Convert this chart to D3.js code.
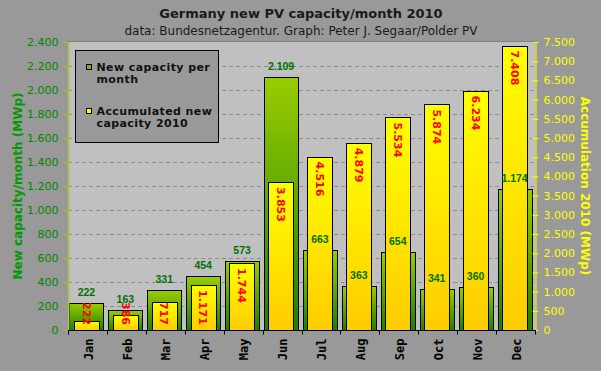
<!DOCTYPE html>
<html>
<head>
<meta charset="utf-8">
<script src="https://cdn.jsdelivr.net/npm/d3@7"></script>
<style>
  body { margin: 0; background: #999999; }
  svg { display: block; font-family: "DejaVu Sans", Verdana, sans-serif; }
</style>
</head>
<body>
<svg id="chart" width="601" height="371"></svg>
<script>
// monthly data, MWp
var months = ["Jan", "Feb", "Mar", "Apr", "May", "Jun", "Jul", "Aug", "Sep", "Oct", "Nov", "Dec"];
var newCapacity = [222, 163, 331, 454, 573, 2109, 663, 363, 654, 341, 360, 1174];
var accumulated = [222, 386, 717, 1171, 1744, 3853, 4516, 4879, 5534, 5874, 6234, 7408];
var leftTicks = [0, 200, 400, 600, 800, 1000, 1200, 1400, 1600, 1800, 2000, 2200, 2400];
var rightTicks = [0, 500, 1000, 1500, 2000, 2500, 3000, 3500, 4000, 4500, 5000, 5500, 6000, 6500, 7000, 7500];

var svg = d3.select("#chart");
var W = 601, H = 371;
var pLeft = 68, pRight = 535, pTop = 42, pBottom = 330;

// german style thousands: 2.400
var fmt = function(v) { return d3.format(",")(v).replace(/,/g, "."); };

var x = d3.scaleBand().domain(months).range([pLeft, pRight]);
var yL = d3.scaleLinear().domain([0, 2400]).range([pBottom, pTop]);
var yR = d3.scaleLinear().domain([0, 7500]).range([pBottom, pTop]);

var defs = svg.append("defs");
var gG = defs.append("linearGradient").attr("id", "gradGreen")
  .attr("x1", 0).attr("y1", 0).attr("x2", 0).attr("y2", 1);
gG.append("stop").attr("offset", "0%").attr("stop-color", "#99cc00");
gG.append("stop").attr("offset", "100%").attr("stop-color", "#1f7f00");
var gY = defs.append("linearGradient").attr("id", "gradYellow")
  .attr("x1", 0).attr("y1", 0).attr("x2", 0).attr("y2", 1);
gY.append("stop").attr("offset", "0%").attr("stop-color", "#ffff00");
gY.append("stop").attr("offset", "100%").attr("stop-color", "#ffcc00");

// background
svg.append("rect").attr("width", W).attr("height", H).attr("fill", "#999999");
svg.append("rect").attr("x", pLeft).attr("y", pTop).attr("width", pRight - pLeft).attr("height", pBottom - pTop)
  .attr("fill", "#c0c0c0");
svg.append("line").attr("x1", pLeft).attr("x2", pRight).attr("y1", pTop - 0.5).attr("y2", pTop - 0.5)
  .attr("stroke", "#808080");

// titles
svg.append("text").attr("x", 301).attr("y", 18).attr("text-anchor", "middle")
  .attr("font-weight", "bold").attr("font-size", 13).attr("fill", "#1a1a1a")
  .text("Germany new PV capacity/month 2010");
svg.append("text").attr("x", 301).attr("y", 35).attr("text-anchor", "middle")
  .attr("font-size", 12).attr("fill", "#1a1a1a")
  .text("data: Bundesnetzagentur. Graph: Peter J. Segaar/Polder PV");

// gridlines
svg.append("g").selectAll("line").data(leftTicks.filter(function(d) { return d > 0 && d < 2400; }))
  .enter().append("line")
  .attr("x1", pLeft).attr("x2", pRight)
  .attr("y1", function(d) { return Math.round(yL(d)) + 0.5; })
  .attr("y2", function(d) { return Math.round(yL(d)) + 0.5; })
  .attr("stroke", "#8c8c8c").attr("stroke-dasharray", "4,3");

// legend
var lg = svg.append("g");
lg.append("rect").attr("x", 75.5).attr("y", 50.5).attr("width", 143).attr("height", 92)
  .attr("fill", "#999999").attr("stroke", "#000");
var legendItems = [
  { fill: "#77b000", lines: ["New capacity per", "month"], y: 71 },
  { fill: "#ffff00", lines: ["Accumulated new", "capacity 2010"], y: 115 }
];
legendItems.forEach(function(it) {
  lg.append("rect").attr("x", 86.5).attr("y", it.y - 6.5).attr("width", 5).attr("height", 5)
    .attr("fill", it.fill).attr("stroke", "#000");
  it.lines.forEach(function(t, i) {
    lg.append("text").attr("x", 96.5).attr("y", it.y + i * 12)
      .attr("font-weight", "bold").attr("font-size", 11).attr("fill", "#111")
      .attr("letter-spacing", 0.4)
      .text(t);
  });
});

var bw = x.bandwidth();
var gw = bw * 0.875, yw = bw * 0.65;

// green bars
svg.append("g").selectAll("rect").data(newCapacity).enter().append("rect")
  .attr("x", function(d, i) { return Math.round(x(months[i]) + bw / 2 - gw / 2 - 1) + 0.5; })
  .attr("y", function(d) { return Math.round(yL(d)) + 0.5; })
  .attr("width", Math.round(gw))
  .attr("height", function(d) { return Math.round(pBottom - yL(d)); })
  .attr("fill", "url(#gradGreen)").attr("stroke", "#000");

// yellow bars
svg.append("g").selectAll("rect").data(accumulated).enter().append("rect")
  .attr("x", function(d, i) { return Math.round(x(months[i]) + bw / 2 - yw / 2 - 1) + 0.5; })
  .attr("y", function(d) { return Math.round(yR(d)) + 0.5; })
  .attr("width", Math.round(yw))
  .attr("height", function(d) { return Math.round(pBottom - yR(d)); })
  .attr("fill", "url(#gradYellow)").attr("stroke", "#000");

// red rotated labels
var redG = svg.append("g");
accumulated.forEach(function(v, i) {
  var cx = x(months[i]) + bw / 2 - 1;
  var t = redG.append("text")
    .attr("font-weight", "bold").attr("font-size", 11).attr("fill", "#ff0000")
    .attr("dy", "0.35em")
    .text(fmt(v));
  var len = t.node().getComputedTextLength();
  var sy = Math.min(yR(v) + 5, 325 - len);
  t.attr("transform", "translate(" + cx + "," + sy + ") rotate(90)");
});

// green value labels
svg.append("g").selectAll("text").data(newCapacity).enter().append("text")
  .attr("x", function(d, i) { return x(months[i]) + bw / 2 - 1; })
  .attr("y", function(d) { return yL(d) - 7; })
  .attr("text-anchor", "middle")
  .attr("font-family", "'Liberation Sans', Arial, sans-serif")
  .attr("font-weight", "bold").attr("font-size", 10.5).attr("fill", "#007000")
  .text(function(d) { return fmt(d); });

// left axis
var axL = svg.append("g").attr("transform", "translate(" + (pLeft + 0.5) + ",0)")
  .call(d3.axisLeft(yL).tickValues(leftTicks).tickFormat(fmt).tickSize(6).tickPadding(4));
axL.select(".domain").attr("stroke", "#99cc00");
axL.selectAll(".tick line").attr("stroke", "#99cc00");
axL.selectAll(".tick text").attr("fill", "#008800").attr("font-size", 11)
  .attr("font-family", "'DejaVu Sans', Verdana, sans-serif");

// right axis
var axR = svg.append("g").attr("transform", "translate(" + (pRight + 0.5) + ",0)")
  .call(d3.axisRight(yR).tickValues(rightTicks).tickFormat(fmt).tickSize(3).tickPadding(5));
axR.select(".domain").attr("stroke", "#ffff00");
axR.selectAll(".tick line").attr("stroke", "#ffff00").attr("x1", -3);
axR.selectAll(".tick text").attr("fill", "#ffff00").attr("font-size", 11)
  .attr("font-family", "'DejaVu Sans', Verdana, sans-serif");

// bottom axis
var axB = svg.append("g").attr("transform", "translate(0," + (pBottom + 0.5) + ")");
axB.append("line").attr("x1", pLeft).attr("x2", pRight + 1).attr("stroke", "#000");
axB.selectAll("line.tk").data(d3.range(months.length + 1)).enter().append("line")
  .attr("class", "tk")
  .attr("x1", function(i) { return Math.round(pLeft + i * bw) + 0.5; })
  .attr("x2", function(i) { return Math.round(pLeft + i * bw) + 0.5; })
  .attr("y1", 0).attr("y2", 4).attr("stroke", "#000");
axB.selectAll("text").data(months).enter().append("text")
  .attr("transform", function(d) { return "translate(" + (x(d) + bw / 2 + 1) + ",8) rotate(-90)"; })
  .attr("text-anchor", "end").attr("dy", "0.35em")
  .attr("font-family", "'DejaVu Sans Mono', monospace")
  .attr("font-weight", "bold").attr("font-size", 12).attr("fill", "#000")
  .text(function(d) { return d; });

// axis titles
svg.append("text").attr("transform", "translate(18," + ((pTop + pBottom) / 2) + ") rotate(-90)")
  .attr("text-anchor", "middle").attr("dy", "0.35em")
  .attr("font-weight", "bold").attr("font-size", 12).attr("fill", "#009900")
  .text("New capacity/month (MWp)");
svg.append("text").attr("transform", "translate(585," + ((pTop + pBottom) / 2) + ") rotate(90)")
  .attr("text-anchor", "middle").attr("dy", "0.35em")
  .attr("font-weight", "bold").attr("font-size", 12).attr("fill", "#ffff00")
  .text("Accumulation 2010 (MWp)");
</script>
</body>
</html>
